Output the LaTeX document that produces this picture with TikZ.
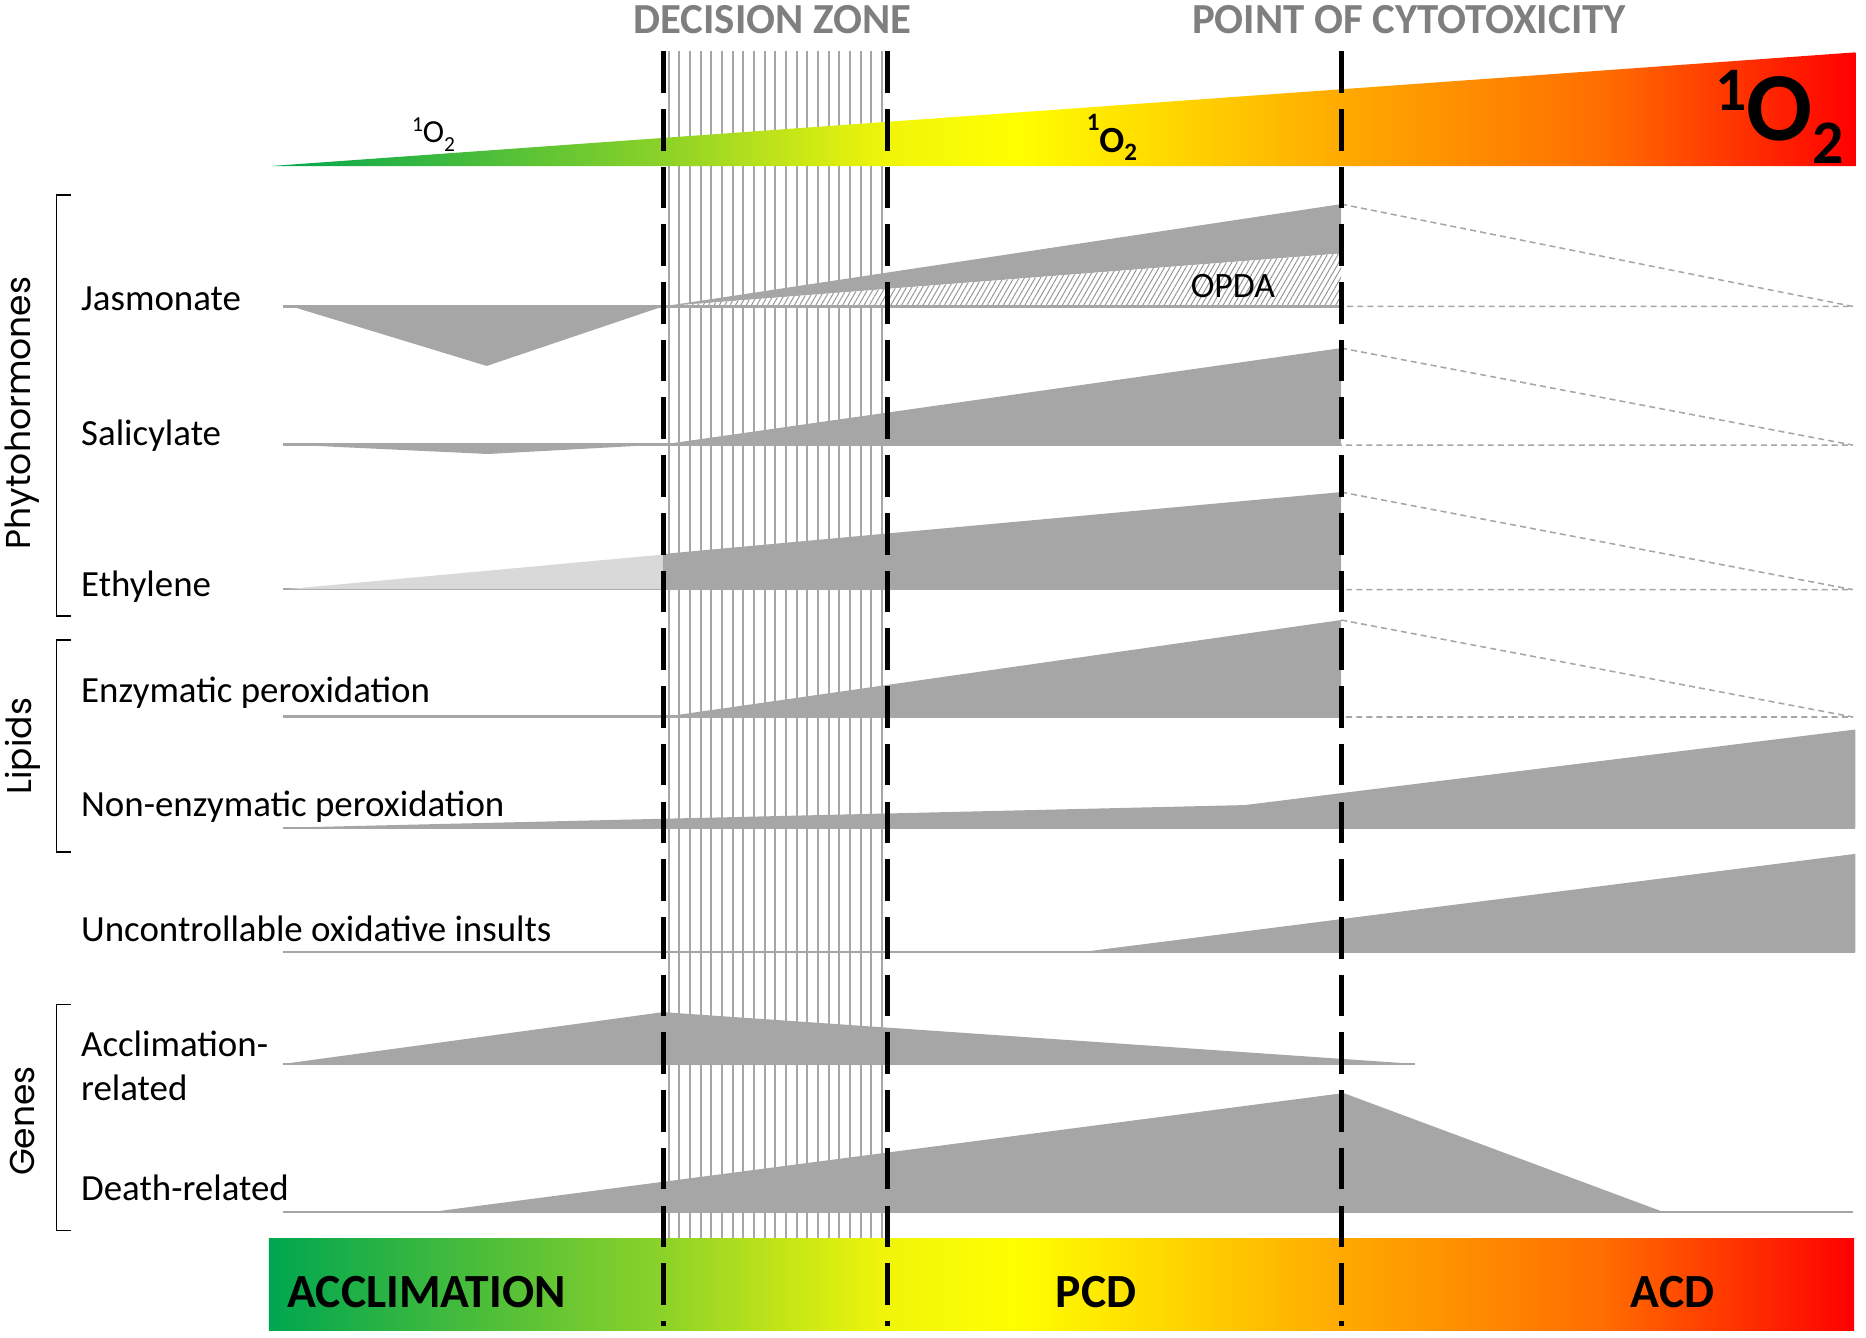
\documentclass[tikz,border=0pt]{standalone}
\usepackage{fontspec}
\setmainfont{Carlito}
\newfontfamily\grpfont{Poppins}
\usetikzlibrary{patterns.meta}
\definecolor{gshape}{RGB}{166,166,166}
\definecolor{glight}{RGB}{217,217,217}
\definecolor{ghead}{RGB}{127,127,127}
\definecolor{cG}{RGB}{0,166,80}
\definecolor{cYG}{RGB}{140,210,40}
\definecolor{cYa}{RGB}{240,245,10}
\definecolor{cY}{RGB}{255,255,0}
\definecolor{cO}{RGB}{255,170,0}
\definecolor{cOR}{RGB}{255,110,0}
\definecolor{cR}{RGB}{255,0,0}
\pgfdeclarehorizontalshading{stage}{100bp}{color(0bp)=(cG); color(25bp)=(cG); color(37.4bp)=(cYG); color(44.4bp)=(cYa); color(48.5bp)=(cY); color(58.8bp)=(cO); color(67bp)=(cOR); color(75bp)=(cR); color(100bp)=(cR)}
\tikzset{
  zoneline/.style={draw=gshape, line width=1.7pt},
  baseln/.style={draw=gshape, line width=2pt},
  proj/.style={draw=gshape, line width=1.3pt, dash pattern=on 5pt off 3.5pt},
  decline/.style={draw=black, line width=4pt, dash pattern=on 35pt off 13.5pt},
  brk/.style={draw=black, line width=1.5pt},
  lbl/.style={font=\fontsize{31}{37}\selectfont, anchor=base west, inner sep=0pt},
  grp/.style={font=\grpfont\fontsize{29}{32}\selectfont, rotate=90, inner sep=0pt},
  head/.style={font=\bfseries\fontsize{36}{40}\selectfont, text=ghead, anchor=base, inner sep=0pt},
  stagelbl/.style={font=\bfseries\fontsize{40}{44}\selectfont, anchor=base, inner sep=0pt},
}
\begin{document}
\begin{tikzpicture}[x=1pt,y=-1pt]
\useasboundingbox (0,0) rectangle (1568,1124);
% decision zone hatch
\foreach \i in {0,...,20} \draw[zoneline] ({562+8.95*\i},43) -- ({562+8.95*\i},1041);
% top singlet oxygen wedge
\shade[shading=stage] (228,139.5) -- (1559,44) -- (1559,139.5) -- cycle;
% Jasmonate
\draw[baseln] (238,257.5) -- (1127,257.5);
\fill[gshape] (245,257.5) -- (557,257.5) -- (409,307.5) -- cycle;
\fill[gshape] (557,257.5) -- (1127,171.5) -- (1127,213) -- cycle;
\fill[white] (557,257.5) -- (1127,213) -- (1127,257.5) -- cycle;
\fill[pattern={Lines[angle=60,distance=3.9pt,line width=0.8pt]}, pattern color=gshape!90!black] (557,257.5) -- (1127,213) -- (1127,257.5) -- cycle;
\draw[baseln] (557,257.5) -- (1127,257.5);
\draw[proj] (1127,171.5) -- (1557,257.5) -- (1127,257.5);
% Salicylate
\draw[baseln] (238,373.5) -- (1127,373.5);
\fill[gshape] (240,373.5) -- (557,373.5) -- (410,381.5) -- cycle;
\fill[gshape] (557,373.5) -- (1127,292.5) -- (1127,374) -- (557,374) -- cycle;
\draw[proj] (1127,292.5) -- (1557,374) -- (1127,374);
% Ethylene
\draw[baseln] (238,495) -- (1127,495);
\fill[glight] (242,495) -- (557,466) -- (557,495) -- cycle;
\fill[gshape] (557,495.5) -- (557,465.5) -- (1127,413.5) -- (1127,495.5) -- cycle;
\draw[proj] (1127,413.5) -- (1557,495.5) -- (1127,495.5);
% Enzymatic peroxidation
\draw[baseln] (238,602) -- (1127,602);
\fill[gshape] (557,602.5) -- (1127,521) -- (1127,602.5) -- cycle;
\draw[proj] (1127,521) -- (1557,602.5) -- (1127,602.5);
% Non-enzymatic peroxidation
\draw[baseln] (238,695.5) -- (1559,695.5);
\fill[gshape] (238,695.5) -- (1046,676.5) -- (1559,613) -- (1559,695.5) -- cycle;
% Uncontrollable oxidative insults
\draw[baseln] (238,800) -- (1559,800);
\fill[gshape] (909,800) -- (1559,717.5) -- (1559,800) -- cycle;
% Acclimation-related genes
\draw[baseln] (238,894) -- (1189,894);
\fill[gshape] (238,894) -- (557,850.5) -- (1189,894) -- cycle;
% Death-related genes
\draw[baseln] (238,1018.5) -- (1557,1018.5);
\fill[gshape] (362,1018.5) -- (1129,918.5) -- (1398,1018.5) -- cycle;
% bottom stage bar
\shade[shading=stage] (226,1041) rectangle (1558,1118);
% black dashed boundaries
\foreach \x in {557.5,746,1127} \draw[decline] (\x,43) -- (\x,1114);
% brackets
\draw[brk] (59.5,164) -- (47.5,164) -- (47.5,517.5) -- (59.5,517.5);
\draw[brk] (59.5,538) -- (47.5,538) -- (47.5,716) -- (59.5,716);
\draw[brk] (59.5,844) -- (47.5,844) -- (47.5,1034) -- (59.5,1034);
% headings
\node[head] (dz) at (649,28) {DECISION ZONE};
\node[head] (pc) at (1184,28) {POINT OF CYTOTOXICITY};
% singlet oxygen labels
\node[anchor=base west, inner sep=0pt, font=\fontsize{27}{30}\selectfont] (o2s) at (346,120)
  {{\fontsize{18}{20}\selectfont\raisebox{9.5pt}{1}}O{\fontsize{18}{20}\selectfont\raisebox{-7.5pt}{2}}};
\node[anchor=base west, inner sep=0pt, font=\bfseries\fontsize{31}{34}\selectfont] (o2m) at (913,128)
  {{\fontsize{21}{24}\selectfont\raisebox{18pt}{1}}O{\fontsize{21}{24}\selectfont\raisebox{-6.5pt}{2}}};
\node[anchor=base west, inner sep=0pt, font=\bfseries\fontsize{82}{90}\selectfont] (o2l) at (1441,118)
  {{\fontsize{52}{56}\selectfont\raisebox{25pt}{1}}O{\fontsize{52}{56}\selectfont\raisebox{-19pt}{2}}};
% OPDA
\node[font=\fontsize{30}{34}\selectfont, inner sep=0pt] (opda) at (1036,240) {OPDA};
% group labels
\node[grp] (gph) at (19,347) {Phytohormones};
\node[grp] (gli) at (19,627) {Lipids};
\node[grp] (gge) at (19,942) {Genes};
% row labels
\node[lbl] (ljas) at (68,260.5) {Jasmonate};
\node[lbl] (lsal) at (68,374) {Salicylate};
\node[lbl] (leth) at (68,501.5) {Ethylene};
\node[lbl] (lenz) at (68,590) {Enzymatic peroxidation};
\node[lbl] (lnon) at (68,686.5) {Non-enzymatic peroxidation};
\node[lbl] (lunc) at (68,791.5) {Uncontrollable oxidative insults};
\node[lbl, align=left] (lacc) at (68,924.5) {Acclimation-\\related};
\node[lbl] (ldea) at (68,1008.5) {Death-related};
% stage labels
\node[stagelbl] (sacc) at (358.5,1099) {ACCLIMATION};
\node[stagelbl] (spcd) at (921,1099) {PCD};
\node[stagelbl] (sacd) at (1405.5,1099) {ACD};
\end{tikzpicture}
\end{document}
